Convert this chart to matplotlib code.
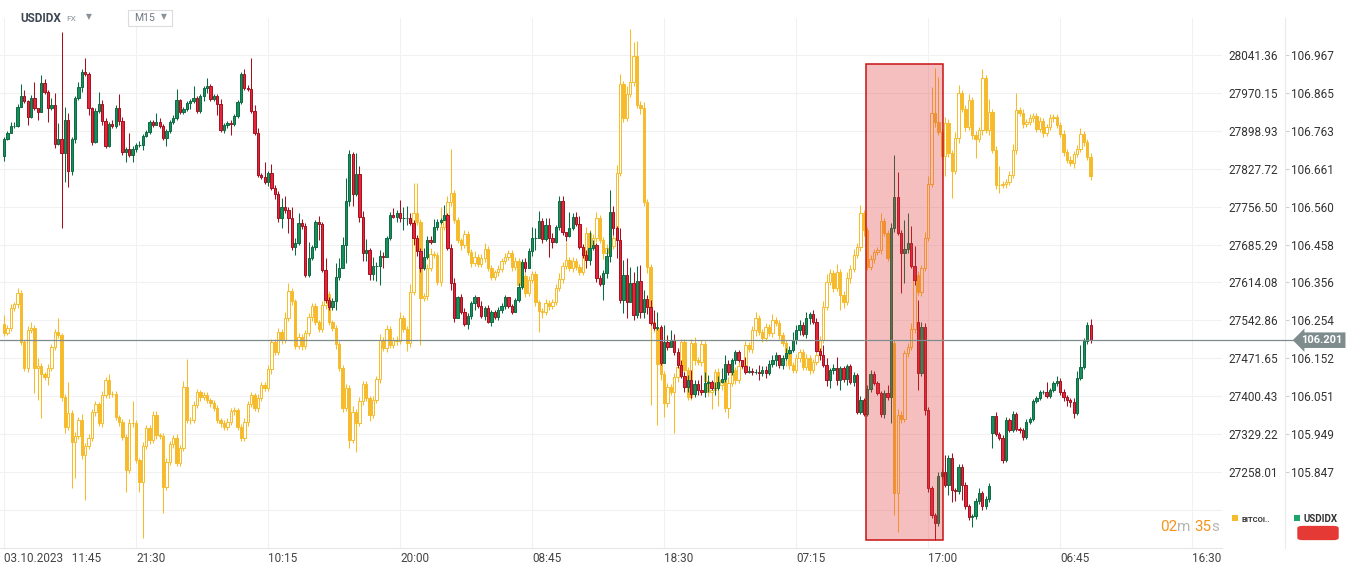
import numpy as np
import matplotlib
matplotlib.use('Agg')
import matplotlib.pyplot as plt
from matplotlib.patches import Rectangle, FancyBboxPatch
from matplotlib.lines import Line2D

plt.rcParams['font.family'] = ['Roboto', 'DejaVu Sans']

W, H = 1353, 574

# x axis: one label every 39 candles (M15)
time_labels = ['03.10.2023   11:45', '21:30', '10:15', '20:00', '08:45',
               '18:30', '07:15', '17:00', '06:45', '16:30']
candles_per_label = 39

btc_ticks = [28041.36, 27970.15, 27898.93, 27827.72, 27756.50, 27685.29,
             27614.08, 27542.86, 27471.65, 27400.43, 27329.22, 27258.01]
usd_ticks = [106.967, 106.865, 106.763, 106.661, 106.560, 106.458,
             106.356, 106.254, 106.152, 106.051, 105.949, 105.847]

# USDIDX closes, open of each candle = previous close unless listed in usd_gap_open
usd_first_open = 106.696
usd_close = [
    106.742, 106.758, 106.777, 106.777, 106.828, 106.857, 106.844, 106.801, 106.852, 106.825,
    106.814, 106.892, 106.868, 106.825, 106.833, 106.728, 106.742, 106.704, 106.793, 106.656,
    106.742, 106.852, 106.881, 106.922, 106.916, 106.825, 106.734, 106.817, 106.836, 106.790,
    106.723, 106.782, 106.777, 106.825, 106.790, 106.707, 106.715, 106.699, 106.715, 106.726,
    106.726, 106.750, 106.760, 106.787, 106.779, 106.787, 106.777, 106.744, 106.763, 106.787,
    106.798, 106.846, 106.814, 106.822, 106.838, 106.844, 106.852, 106.817, 106.857, 106.879,
    106.884, 106.849, 106.857, 106.836, 106.766, 106.779, 106.785, 106.782, 106.803, 106.841,
    106.916, 106.879, 106.876, 106.817, 106.758, 106.645, 106.640, 106.626, 106.650, 106.610,
    106.594, 106.529, 106.559, 106.551, 106.529, 106.452, 106.462, 106.516, 106.508, 106.376,
    106.422, 106.452, 106.519, 106.513, 106.390, 106.309, 106.290, 106.307, 106.371, 106.395,
    106.457, 106.575, 106.701, 106.594, 106.648, 106.532, 106.435, 106.444, 106.379, 106.401,
    106.401, 106.427, 106.425, 106.476, 106.538, 106.532, 106.543, 106.529, 106.529, 106.529,
    106.516, 106.476, 106.441, 106.395, 106.425, 106.470, 106.465, 106.505, 106.519, 106.524,
    106.538, 106.449, 106.355, 106.261, 106.317, 106.277, 106.245, 106.266, 106.301, 106.317,
    106.293, 106.266, 106.288, 106.250, 106.277, 106.263, 106.282, 106.293, 106.317, 106.293,
    106.277, 106.309, 106.344, 106.411, 106.395, 106.441, 106.476, 106.476, 106.521, 106.473,
    106.511, 106.476, 106.465, 106.505, 106.575, 106.492, 106.481, 106.503, 106.532, 106.513,
    106.452, 106.430, 106.417, 106.449, 106.457, 106.368, 106.352, 106.382, 106.427, 106.546,
    106.503, 106.470, 106.309, 106.376, 106.304, 106.355, 106.269, 106.360, 106.277, 106.312,
    106.290, 106.247, 106.234, 106.237, 106.140, 106.196, 106.183, 106.202, 106.170, 106.135,
    106.105, 106.076, 106.094, 106.057, 106.084, 106.068, 106.062, 106.086, 106.089, 106.073,
    106.073, 106.089, 106.097, 106.137, 106.116, 106.148, 106.170, 106.148, 106.132, 106.116,
    106.119, 106.116, 106.116, 106.113, 106.121, 106.113, 106.137, 106.148, 106.161, 106.135,
    106.153, 106.167, 106.175, 106.202, 106.229, 106.242, 106.218, 106.261, 106.272, 106.250,
    106.172, 106.161, 106.135, 106.094, 106.121, 106.127, 106.094, 106.127, 106.097, 106.132,
    106.089, 106.108, 106.008, 106.041, 106.003, 106.070, 106.110, 106.086, 106.059, 106.003,
    106.059, 106.049, 106.503, 106.586, 106.489, 106.435, 106.446, 106.462, 106.401, 106.363,
    106.113, 106.237, 106.014, 105.804, 105.732, 105.710, 105.837, 105.847, 105.812, 105.885,
    105.799, 105.796, 105.861, 105.812, 105.756, 105.726, 105.729, 105.769, 105.791, 105.756,
    105.775, 105.810, 105.998, 105.949, 105.939, 105.879, 105.987, 105.960, 106.003, 105.963,
    105.960, 105.941, 105.982, 105.990, 106.038, 106.046, 106.062, 106.062, 106.051, 106.068,
    106.086, 106.092, 106.062, 106.049, 106.041, 106.035, 106.006, 106.100, 106.129, 106.199,
    106.242, 106.201]
usd_gap_open = {270: 106.250, 292: 105.952}
# wick lengths above / below the body, in 0.001
usd_wick_hi = [
    5, 5, 11, 11, 8, 32, 16, 3, 8, 43, 0, 21, 11, 5, 19, 32, 43, 287, 35, 19,
    5, 5, 13, 8, 38, 5, 3, 8, 32, 11, 8, 5, 11, 8, 38, 11, 5, 43, 8, 5,
    11, 5, 5, 5, 5, 24, 11, 5, 5, 5, 8, 30, 3, 5, 5, 5, 32, 5, 5, 5,
    21, 5, 5, 5, 13, 5, 5, 8, 5, 5, 5, 13, 8, 83, 16, 13, 5, 40, 5, 24,
    8, 8, 24, 30, 8, 30, 13, 27, 11, 8, 43, 5, 5, 16, 5, 32, 8, 8, 38, 27,
    21, 62, 11, 5, 56, 21, 16, 30, 5, 24, 11, 16, 11, 5, 8, 19, 8, 35, 30, 32,
    13, 8, 8, 8, 24, 11, 11, 21, 8, 5, 27, 5, 11, 13, 3, 8, 11, 8, 5, 5,
    0, 13, 5, 8, 5, 5, 8, 8, 5, 0, 5, 5, 11, 8, 11, 8, 30, 27, 27, 8,
    19, 19, 13, 5, 13, 13, 0, 43, 11, 13, 21, 8, 13, 46, 13, 5, 8, 8, 21, 59,
    16, 5, 32, 40, 46, 43, 30, 40, 43, 24, 11, 19, 35, 40, 5, 46, 19, 27, 16, 11,
    13, 11, 13, 27, 11, 11, 40, 30, 19, 5, 16, 16, 30, 24, 11, 5, 5, 5, 0, 24,
    13, 8, 8, 19, 11, 11, 11, 13, 8, 0, 8, 13, 11, 21, 13, 13, 8, 16, 5, 11,
    11, 8, 27, 19, 5, 11, 30, 5, 5, 5, 5, 8, 5, 11, 5, 11, 11, 8, 5, 5,
    8, 21, 13, 113, 67, 8, 78, 81, 46, 54, 59, 13, 11, 8, 5, 5, 11, 8, 46, 8,
    13, 5, 8, 8, 8, 5, 5, 8, 13, 5, 8, 8, 0, 11, 5, 8, 8, 5, 8, 5,
    5, 5, 8, 5, 5, 5, 5, 5, 27, 5, 5, 13, 8, 8, 5, 5, 11, 19, 59, 8,
    8, 16]
usd_wick_lo = [
    13, 3, 0, 5, 3, 0, 5, 21, 3, 5, 21, 0, 5, 38, 5, 11, 3, 201, 78, 43,
    11, 11, 5, 13, 5, 19, 8, 3, 5, 11, 5, 3, 5, 5, 11, 8, 27, 5, 19, 8,
    5, 13, 3, 5, 5, 0, 5, 5, 21, 5, 5, 5, 5, 5, 5, 16, 5, 5, 5, 13,
    13, 5, 5, 30, 5, 8, 8, 30, 5, 5, 5, 5, 5, 5, 5, 5, 5, 5, 11, 5,
    13, 11, 27, 8, 40, 8, 21, 5, 8, 5, 5, 5, 8, 43, 5, 8, 8, 8, 24, 8,
    0, 48, 13, 32, 5, 13, 21, 21, 16, 16, 40, 51, 30, 0, 5, 3, 13, 11, 32, 19,
    5, 19, 13, 11, 5, 5, 5, 0, 8, 5, 0, 5, 19, 11, 0, 5, 5, 13, 8, 19,
    5, 5, 11, 3, 11, 5, 8, 8, 8, 5, 5, 0, 5, 5, 11, 0, 13, 32, 0, 11,
    5, 51, 16, 3, 8, 8, 13, 3, 5, 5, 5, 8, 21, 13, 5, 11, 5, 43, 13, 16,
    19, 48, 8, 35, 43, 0, 13, 8, 16, 16, 19, 5, 5, 5, 5, 0, 8, 0, 8, 8,
    5, 13, 13, 11, 8, 13, 8, 13, 24, 5, 19, 5, 3, 8, 8, 8, 11, 5, 5, 5,
    3, 8, 5, 19, 8, 13, 5, 8, 16, 8, 11, 5, 3, 5, 11, 13, 5, 11, 16, 5,
    3, 13, 5, 16, 21, 11, 13, 27, 8, 16, 5, 11, 5, 5, 5, 5, 8, 5, 5, 8,
    11, 8, 70, 11, 5, 107, 81, 11, 5, 13, 46, 8, 13, 11, 8, 46, 8, 8, 5, 27,
    32, 27, 8, 40, 8, 8, 27, 8, 8, 11, 8, 8, 40, 5, 5, 8, 5, 5, 5, 5,
    8, 8, 5, 5, 5, 5, 5, 5, 5, 5, 5, 8, 8, 11, 16, 13, 13, 5, 5, 5,
    8, 8]

# BITCOIN closes (USD), open = previous close
btc_first_open = 27536
btc_close = [
    27519, 27529, 27566, 27574, 27594, 27502, 27453, 27525, 27529, 27453,
    27457, 27442, 27436, 27453, 27493, 27521, 27515, 27399, 27343, 27369,
    27314, 27326, 27356, 27290, 27307, 27322, 27371, 27386, 27350, 27403,
    27431, 27405, 27405, 27361, 27352, 27324, 27262, 27350, 27350, 27281,
    27239, 27307, 27341, 27318, 27365, 27328, 27326, 27230, 27277, 27311,
    27322, 27275, 27303, 27418, 27356, 27356, 27384, 27408, 27399, 27403,
    27393, 27388, 27378, 27356, 27350, 27343, 27352, 27373, 27374, 27343,
    27322, 27352, 27386, 27403, 27378, 27397, 27421, 27416, 27451, 27502,
    27483, 27521, 27506, 27547, 27598, 27579, 27495, 27512, 27495, 27519,
    27549, 27570, 27540, 27527, 27572, 27592, 27540, 27529, 27498, 27453,
    27378, 27416, 27318, 27371, 27350, 27391, 27423, 27397, 27365, 27393,
    27433, 27506, 27491, 27527, 27497, 27506, 27504, 27547, 27527, 27500,
    27596, 27745, 27728, 27585, 27589, 27641, 27668, 27666, 27615, 27718,
    27731, 27765, 27782, 27731, 27694, 27684, 27705, 27671, 27651, 27662,
    27649, 27660, 27677, 27641, 27624, 27634, 27639, 27654, 27662, 27669,
    27643, 27654, 27609, 27626, 27594, 27619, 27630, 27577, 27560, 27559,
    27575, 27570, 27577, 27604, 27621, 27645, 27656, 27641, 27654, 27643,
    27634, 27666, 27707, 27681, 27698, 27735, 27694, 27669, 27679, 27683,
    27698, 27820, 27987, 27923, 27968, 27991, 28039, 27947, 27942, 27765,
    27643, 27540, 27529, 27461, 27442, 27388, 27418, 27408, 27436, 27455,
    27502, 27450, 27399, 27500, 27468, 27465, 27498, 27429, 27408, 27412,
    27446, 27421, 27431, 27378, 27425, 27450, 27431, 27457, 27459, 27497,
    27489, 27525, 27547, 27521, 27510, 27530, 27519, 27544, 27538, 27515,
    27500, 27482, 27459, 27450, 27472, 27483, 27455, 27472, 27450, 27465,
    27478, 27506, 27568, 27615, 27632, 27604, 27634, 27590, 27577, 27622,
    27639, 27666, 27681, 27745, 27713, 27643, 27658, 27671, 27675, 27730,
    27707, 27660, 27500, 27219, 27365, 27358, 27482, 27493, 27527, 27628,
    27596, 27641, 27698, 27799, 27932, 27915, 27897, 27852, 27914, 27857,
    27823, 27885, 27970, 27940, 27906, 27957, 27891, 27884, 27900, 27998,
    27900, 27934, 27863, 27797, 27797, 27799, 27803, 27816, 27863, 27938,
    27932, 27912, 27915, 27923, 27927, 27902, 27917, 27895, 27906, 27923,
    27925, 27910, 27893, 27859, 27844, 27838, 27855, 27865, 27893, 27878,
    27850, 27814]
# wick lengths in USD
btc_wick_hi = [
    17, 6, 8, 4, 9, 6, 4, 8, 11, 6, 15, 6, 4, 8, 6, 6, 26, 4, 6, 58,
    6, 8, 6, 11, 6, 8, 6, 6, 4, 8, 6, 11, 6, 6, 4, 6, 6, 8, 41, 6,
    4, 8, 6, 6, 8, 8, 4, 6, 8, 6, 6, 8, 6, 11, 53, 6, 8, 6, 4, 6,
    6, 4, 6, 6, 4, 6, 8, 6, 6, 4, 6, 8, 6, 6, 4, 8, 6, 6, 8, 6,
    6, 8, 6, 11, 15, 6, 4, 8, 6, 6, 8, 6, 6, 4, 8, 6, 6, 4, 6, 6,
    6, 8, 6, 11, 6, 8, 6, 6, 4, 8, 6, 11, 6, 8, 6, 6, 8, 11, 6, 6,
    15, 56, 56, 6, 6, 8, 11, 6, 6, 38, 8, 11, 83, 6, 6, 4, 8, 6, 6, 11,
    6, 8, 11, 6, 6, 4, 8, 6, 8, 6, 6, 8, 6, 11, 6, 8, 6, 6, 4, 6,
    8, 6, 6, 8, 11, 8, 34, 6, 8, 6, 6, 8, 11, 6, 8, 11, 6, 6, 8, 6,
    6, 15, 19, 6, 15, 100, 26, 28, 8, 11, 6, 6, 6, 6, 6, 6, 8, 6, 8, 8,
    6, 6, 6, 8, 11, 6, 8, 6, 6, 8, 6, 8, 6, 6, 11, 6, 6, 8, 6, 8,
    6, 8, 11, 6, 6, 8, 6, 11, 6, 6, 6, 6, 6, 6, 8, 6, 6, 8, 6, 6,
    6, 8, 11, 15, 8, 6, 15, 6, 8, 11, 8, 11, 8, 15, 6, 6, 8, 6, 6, 15,
    6, 6, 6, 6, 11, 8, 6, 8, 11, 11, 8, 6, 11, 15, 49, 85, 86, 6, 11, 8,
    6, 11, 15, 6, 8, 11, 6, 8, 6, 17, 6, 24, 6, 8, 36, 6, 6, 8, 11, 32,
    6, 8, 6, 8, 6, 6, 8, 6, 6, 8, 6, 6, 6, 8, 6, 8, 6, 8, 11, 6,
    6, 8]
btc_wick_lo = [
    6, 4, 6, 6, 8, 6, 6, 8, 6, 47, 60, 83, 6, 15, 6, 6, 6, 8, 11, 6,
    86, 68, 6, 8, 85, 6, 6, 8, 6, 8, 6, 8, 6, 6, 8, 6, 41, 6, 8, 6,
    19, 105, 6, 8, 6, 8, 6, 49, 6, 6, 8, 6, 6, 6, 6, 8, 6, 6, 8, 6,
    6, 8, 6, 6, 8, 6, 6, 6, 8, 6, 6, 6, 8, 6, 6, 8, 6, 6, 6, 8,
    6, 6, 8, 6, 6, 8, 6, 6, 8, 6, 6, 8, 6, 6, 6, 8, 6, 6, 8, 6,
    8, 6, 15, 6, 54, 6, 8, 6, 11, 6, 6, 8, 6, 8, 6, 6, 8, 6, 6, 15,
    8, 6, 6, 88, 6, 8, 6, 6, 6, 8, 6, 6, 8, 6, 6, 8, 6, 6, 8, 6,
    6, 6, 8, 6, 6, 6, 8, 6, 6, 6, 8, 6, 11, 6, 8, 6, 6, 8, 39, 11,
    6, 8, 6, 6, 6, 8, 6, 6, 8, 6, 6, 6, 8, 6, 6, 8, 6, 11, 6, 6,
    6, 8, 6, 8, 6, 6, 8, 6, 11, 8, 11, 156, 8, 115, 11, 26, 8, 6, 77, 8,
    6, 8, 6, 6, 8, 6, 8, 11, 8, 32, 6, 39, 8, 8, 19, 6, 8, 6, 6, 8,
    6, 8, 11, 6, 8, 6, 6, 8, 6, 8, 6, 24, 8, 6, 6, 8, 6, 6, 8, 6,
    6, 8, 6, 6, 6, 8, 6, 28, 11, 6, 8, 6, 6, 8, 11, 6, 6, 8, 6, 8,
    6, 6, 8, 41, 73, 8, 6, 8, 6, 8, 6, 8, 6, 6, 6, 8, 6, 8, 38, 8,
    51, 6, 8, 6, 8, 6, 8, 36, 6, 8, 6, 8, 6, 8, 15, 6, 8, 6, 6, 8,
    6, 8, 6, 6, 8, 6, 6, 8, 6, 6, 8, 6, 6, 8, 6, 6, 8, 6, 6, 8,
    6, 8]

last_price = 106.201
# highlighted block: candle range and USDIDX price range
hl_candles = (254.65, 277.4)
hl_prices = (105.664, 106.943)


def ohlc(first_open, close, wick_hi, wick_lo, unit, gap_open=None):
    close = np.asarray(close, float)
    opn = np.r_[first_open, close[:-1]]
    for k, v in (gap_open or {}).items():
        opn[k] = v
    high = np.maximum(opn, close) + np.asarray(wick_hi) * unit
    low = np.minimum(opn, close) - np.asarray(wick_lo) * unit
    return opn, high, low, close


def draw_candles(ax, o, h, l, c, up_face, up_edge, dn_face, dn_edge, width, z):
    x = np.arange(len(c))
    up = c >= o
    for m, face, edge in ((up, up_face, up_edge), (~up, dn_face, dn_edge)):
        ax.vlines(x[m], l[m], h[m], color=edge, lw=0.75, zorder=z)
        ax.bar(x[m], np.abs(c - o)[m], bottom=np.minimum(o, c)[m], width=width,
               color=face, edgecolor=edge, linewidth=0.7, zorder=z + 0.1)


def fx(x):
    return x / W


def fy(y):
    return 1 - y / H


fig = plt.figure(figsize=(W / 100, H / 100), dpi=100)
fig.patch.set_facecolor('white')
ax = fig.add_axes([0, fy(548), fx(1222), (548 - 18) / H])
ax2 = ax.twinx()

ax.set_xlim(-1.18, 359.8)
ax.set_ylim(27115.3, 28110.9)
ax2.set_ylim(105.6428, 107.0664)

# bitcoin behind, usdidx on top
bo, bh, bl, bc = ohlc(btc_first_open, btc_close, btc_wick_hi, btc_wick_lo, 1.0)
draw_candles(ax, bo, bh, bl, bc, 'white', '#f6bb2b', '#f6bb2b', '#f6bb2b', 0.7, 3)
uo, uh, ul, uc = ohlc(usd_first_open, usd_close, usd_wick_hi, usd_wick_lo, 0.001, usd_gap_open)
draw_candles(ax2, uo, uh, ul, uc, '#168f5a', '#0c6a41', '#e3263a', '#a50f1f', 0.68, 3)

# highlight block
ax2.add_patch(Rectangle((hl_candles[0], hl_prices[0]), hl_candles[1] - hl_candles[0],
                        hl_prices[1] - hl_prices[0], facecolor='#e63a3a', alpha=0.32,
                        edgecolor='none', zorder=5))
ax2.add_patch(Rectangle((hl_candles[0], hl_prices[0]), hl_candles[1] - hl_candles[0],
                        hl_prices[1] - hl_prices[0], fill=False, edgecolor='#c81414',
                        lw=1.1, zorder=5.5))

# axes styling
ax.set_xticks(np.arange(len(time_labels)) * candles_per_label)
ax.set_xticklabels(time_labels)
for lbl in ax.get_xticklabels():
    lbl.set_ha('left')
ax.tick_params(axis='x', length=0, pad=3, labelsize=8.5, labelcolor='#444444')

ax.set_yticks(btc_ticks + [27186.80])
ax.set_yticklabels(['%.2f' % v for v in btc_ticks] + [''])
ax.yaxis.tick_right()
ax.tick_params(axis='y', length=0, pad=4.3, labelsize=8.5, labelcolor='#333333')

ax2.set_yticks(usd_ticks)
ax2.set_yticklabels(['%.3f' % v for v in usd_ticks])
ax2.spines['right'].set_position(('outward', 45.4))
ax2.tick_params(axis='y', length=3, color='#d0d0d0', pad=1.5, labelsize=8.5,
                labelcolor='#333333')

ax.grid(True, color='#f1f1f1', lw=0.8)
ax.set_axisbelow(True)
for s in ['top', 'left', 'right']:
    ax.spines[s].set_visible(False)
ax.spines['bottom'].set_color('#e6e6e6')
for s in ['top', 'left', 'bottom']:
    ax2.spines[s].set_visible(False)
ax2.spines['right'].set_color('#ebebeb')

# current price line and tag
ax2.axhline(last_price, color='#7f8c8d', lw=0.9, zorder=6)
yp = fig.transFigure.inverted().transform(ax2.transData.transform((0, last_price)))[1]
fig.add_artist(Line2D([fx(1222), fx(1300)], [yp, yp], color='#7f8c8d', lw=0.9))
fig.text(fx(1322), yp, '%.3f' % last_price, ha='center', va='center', color='white',
         fontsize=8, fontweight='bold',
         bbox=dict(boxstyle='larrow,pad=0.25', fc='#7f8c8d', ec='none'))

# header
fig.text(fx(20), fy(18), 'USDIDX', ha='left', va='center', fontsize=8.5,
         fontweight='bold', color='#3d4752')
fig.text(fx(66), fy(19), 'FX', ha='left', va='center', fontsize=6, color='#8a9299')
fig.text(fx(89), fy(17), '▼', ha='center', va='center', fontsize=5.5, color='#8a9299',
         family='DejaVu Sans')
fig.add_artist(Rectangle((fx(128), fy(26)), fx(172) - fx(128), fy(10) - fy(26),
                         transform=fig.transFigure, facecolor='white',
                         edgecolor='#dcdcdc', lw=0.8))
fig.text(fx(134), fy(18), 'M15', ha='left', va='center', fontsize=7.5, color='#6f7780')
fig.text(fx(164), fy(17), '▼', ha='center', va='center', fontsize=5.5, color='#8a9299',
         family='DejaVu Sans')

# countdown
fig.text(fx(1160), fy(527), '02', ha='left', va='center', fontsize=11, color='#f7941d')
fig.text(fx(1177), fy(527), 'm', ha='left', va='center', fontsize=11, color='#b5b5b5')
fig.text(fx(1194), fy(527), '35', ha='left', va='center', fontsize=11, color='#f7941d')
fig.text(fx(1211), fy(527), 's', ha='left', va='center', fontsize=11, color='#b5b5b5')

# legend
fig.add_artist(Rectangle((fx(1232), fy(521)), 6 / W, 6 / H, transform=fig.transFigure,
                         facecolor='#f6bb2b', edgecolor='none'))
fig.text(fx(1241), fy(519), 'BITCOI..', ha='left', va='center', fontsize=5.5,
         fontweight='bold', color='#333333')
fig.add_artist(Rectangle((fx(1294), fy(521)), 6 / W, 6 / H, transform=fig.transFigure,
                         facecolor='#1da56b', edgecolor='none'))
fig.text(fx(1304), fy(519), 'USDIDX', ha='left', va='center', fontsize=7,
         fontweight='bold', color='#333333')
fig.add_artist(FancyBboxPatch((fx(1300), fy(539)), fx(1336) - fx(1300), fy(527) - fy(539),
                              boxstyle='round,pad=0.002,rounding_size=0.004',
                              transform=fig.transFigure, facecolor='#e53935',
                              edgecolor='none'))

fig.savefig('out.png', dpi=100)
